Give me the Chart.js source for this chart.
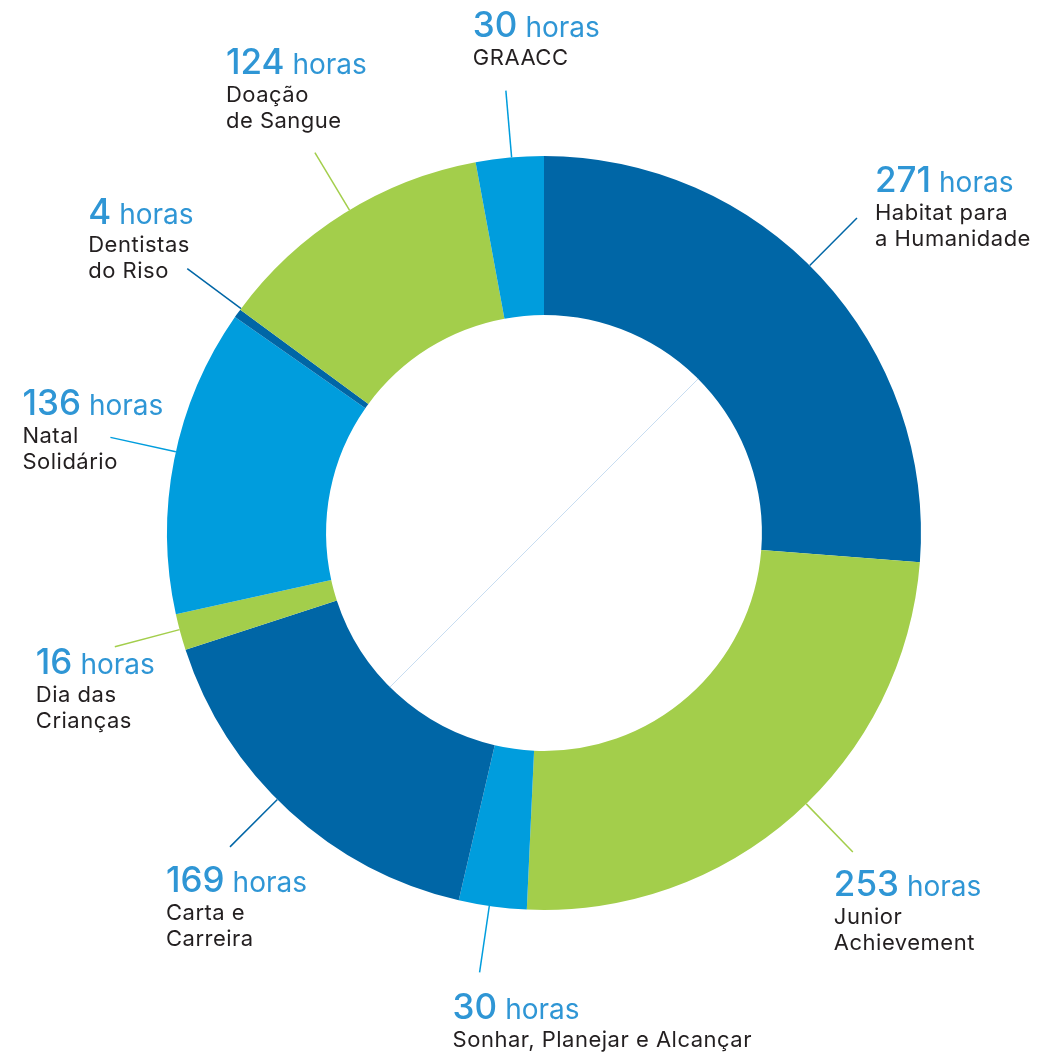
<!DOCTYPE html>
<html>
<head>
<meta charset="utf-8">
<script src="https://cdn.jsdelivr.net/npm/chart.js@4.4.1/dist/chart.umd.min.js"></script>
<style>
  html, body { margin: 0; padding: 0; background: #ffffff; }
  #wrap { width: 1044px; height: 1056px; position: relative; }
</style>
</head>
<body>
<div id="wrap"><canvas id="chart"></canvas></div>
<script>
// data, clockwise from 12 o'clock
const projects = [
  ["Habitat para", "a Humanidade"],
  ["Junior", "Achievement"],
  ["Sonhar, Planejar e Alcançar"],
  ["Carta e", "Carreira"],
  ["Dia das", "Crianças"],
  ["Natal", "Solidário"],
  ["Dentistas", "do Riso"],
  ["Doação", "de Sangue"],
  ["GRAACC"]
];
const hours = [271, 253, 30, 169, 16, 136, 4, 124, 30];
const unit = "horas";

const DARK = "#0066a6", GREEN = "#a3ce4b", LIGHT = "#009ddd";
const sliceColors = [DARK, GREEN, LIGHT, DARK, GREEN, LIGHT, DARK, GREEN, LIGHT];

// leader lines sit a little off the slice middle (degrees)
const leaderNudge = [-2.4, -2.6, 0.5, 2.5, 0.4, 1.2, 0.9, 1.0, 0.3];
const leaderLength = 67;
// label text position relative to the end of each leader line
const labelOffsets = [
  [18, -26], [-19, 44], [-27, 47], [-64, 45], [-79, 27],
  [-88, -22], [-99, -45], [-89, -79], [-33, -54]
];

const calloutPlugin = {
  id: "callouts",
  afterDatasetsDraw(chart) {
    const ctx = chart.ctx;
    const arcs = chart.getDatasetMeta(0).data;
    ctx.save();

    // faint diagonal inside the hole
    const a0 = arcs[0];
    const d = a0.innerRadius * Math.SQRT1_2;
    ctx.strokeStyle = "#c8ddf1";
    ctx.lineWidth = 1;
    ctx.beginPath();
    ctx.moveTo(a0.x + d, a0.y - d);
    ctx.lineTo(a0.x - d, a0.y + d);
    ctx.stroke();

    arcs.forEach((arc, i) => {
      const mid = (arc.startAngle + arc.endAngle) / 2 + (leaderNudge[i] * Math.PI) / 180;
      const cos = Math.cos(mid), sin = Math.sin(mid);
      const sx = arc.x + cos * arc.outerRadius;
      const sy = arc.y + sin * arc.outerRadius;
      const ex = arc.x + cos * (arc.outerRadius + leaderLength);
      const ey = arc.y + sin * (arc.outerRadius + leaderLength);

      ctx.strokeStyle = sliceColors[i];
      ctx.lineWidth = 1.5;
      ctx.beginPath();
      ctx.moveTo(sx, sy);
      ctx.lineTo(ex, ey);
      ctx.stroke();

      const tx = ex + labelOffsets[i][0];
      const ty = ey + labelOffsets[i][1];
      ctx.textAlign = "left";
      ctx.textBaseline = "alphabetic";
      ctx.letterSpacing = "0px";
      ctx.fillStyle = "#2f96d5";
      ctx.font = "500 35px Inter";
      const num = String(hours[i]);
      ctx.fillText(num, tx, ty);
      const w = ctx.measureText(num).width;
      ctx.font = "400 28px Inter";
      ctx.fillText(unit, tx + w + 8, ty);

      ctx.fillStyle = "#231f20";
      ctx.font = "400 22px Inter";
      ctx.letterSpacing = "0.5px";
      projects[i].forEach((line, j) => {
        ctx.fillText(line, tx, ty + 28 + j * 26);
      });
    });
    ctx.restore();
  }
};

new Chart(document.getElementById("chart"), {
  type: "doughnut",
  data: {
    labels: projects.map((p) => p.join(" ")),
    datasets: [
      {
        data: hours,
        backgroundColor: sliceColors,
        borderWidth: 0,
      },
    ],
  },
  options: {
    responsive: true,
    maintainAspectRatio: false,
    animation: false,
    cutout: "57.8%",
    layout: {
      padding: { left: 167, right: 123, top: 156, bottom: 146 },
    },
    plugins: {
      legend: { display: false },
      tooltip: { enabled: false },
    },
  },
  plugins: [calloutPlugin],
});
</script>
</body>
</html>
